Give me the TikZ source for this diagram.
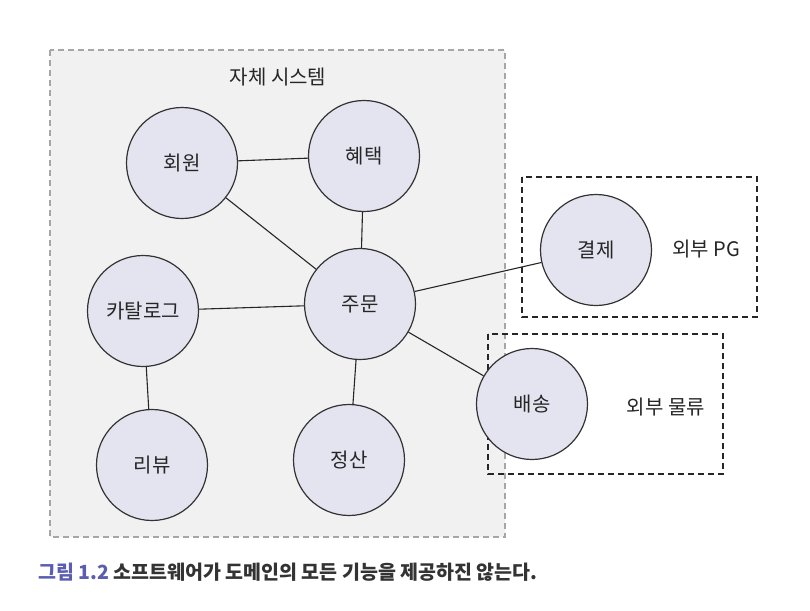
\documentclass[tikz,border=0pt]{standalone}
\usepackage{fontspec}
\setmainfont{Noto Sans CJK KR}
\begin{document}
\begin{tikzpicture}[x=1pt,y=-1pt,
  ent/.style={circle,draw=black!80,line width=1.2pt,fill=circfill,minimum size=111pt,inner sep=0pt,font=\fontsize{20}{22}\selectfont,text=black!85},
  link/.style={draw=black!85,line width=1.1pt},
  sysbox/.style={draw=black!35,dash pattern=on 6pt off 4pt,line width=1.5pt,fill=sysfill},
  extbox/.style={draw=black!85,dash pattern=on 6pt off 4pt,line width=1.6pt},
  lbl/.style={font=\fontsize{20}{22}\selectfont,text=black!85}]
\definecolor{circfill}{HTML}{E4E4F0}
\definecolor{sysfill}{HTML}{F1F1F1}
\definecolor{capblue}{HTML}{5A5DB0}
\useasboundingbox (0,0) rectangle (810,610);
\fill[white] (0,0) rectangle (810,610);
\draw[sysbox] (50,50) rectangle (505,537);
\node[lbl] (sys) at (278,77) {자체 시스템};
\node[ent] (mem) at (182,163) {회원};
\node[ent] (ben) at (364,156) {혜택};
\node[ent] (cat) at (143,311) {카탈로그};
\node[ent] (ord) at (360,304) {주문};
\node[ent] (rev) at (152,465) {리뷰};
\node[ent] (set) at (349,460) {정산};
\draw[extbox] (522,177) rectangle (757,317);
\draw[extbox] (488,334) rectangle (723,474);
\node[ent] (pay) at (596,250) {결제};
\node[ent] (dlv) at (532,404) {배송};
\node[lbl] (pg) at (706,249) {외부 PG};
\node[lbl] (lg) at (666,407) {외부 물류};
\draw[link] (mem) -- (ben);
\draw[link] (mem) -- (ord);
\draw[link] (ben) -- (ord);
\draw[link] (cat) -- (ord);
\draw[link] (cat) -- (rev);
\draw[link] (ord) -- (set);
\draw[link] (ord) -- (pay);
\draw[link] (ord) -- (dlv);
\node[anchor=west,font=\bfseries\fontsize{19.5}{21}\selectfont,text=black!80,inner sep=0pt] (cap) at (38,572) {\textcolor{capblue}{그림 1.2} 소프트웨어가 도메인의 모든 기능을 제공하진 않는다.};
\end{tikzpicture}
\end{document}
